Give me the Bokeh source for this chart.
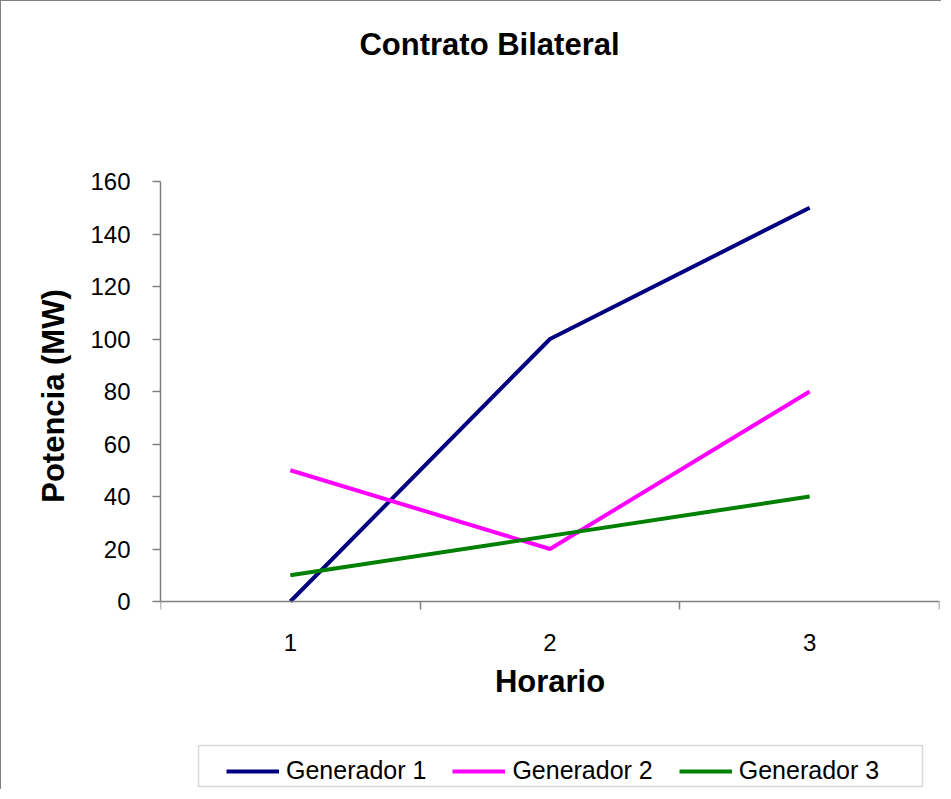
from bokeh.plotting import figure
from bokeh.models import Range1d, FixedTicker, Legend, LegendItem, Label, BoxAnnotation
from bokeh.embed import file_html
from bokeh.resources import INLINE

horario = [1, 2, 3]
gen1 = [0, 100, 150]
gen2 = [50, 20, 80]
gen3 = [10, 25, 40]
y_ticks = [0, 20, 40, 60, 80, 100, 120, 140, 160]
x_minor = [0.5, 1.5, 2.5, 3.5]
series_names = ["Generador 1", "Generador 2", "Generador 3"]
colors = ["#000080", "#FF00FF", "#008000"]
chart_title = "Contrato Bilateral"

W, H = 941, 789
PX_PER_UNIT = 420 / 160.0          # 160 units over 420 px of plot area
TOP_PX, BOTTOM_PX = 180, H - 600    # space above 160 and below 0
p = figure(width=W, height=H, output_backend="svg", toolbar_location=None,
           x_range=Range1d(0.5, 3.5),
           y_range=Range1d(-BOTTOM_PX / PX_PER_UNIT, 160 + TOP_PX / PX_PER_UNIT),
           min_border_left=159, min_border_right=3, min_border_top=0, min_border_bottom=0)
p.title = None

p.outline_line_color = None
p.grid.visible = False
p.background_fill_color = "white"
p.border_fill_color = "white"

# x axis, drawn at y = 0
xa = p.xaxis[0]
xa.fixed_location = 0
xa.ticker = FixedTicker(ticks=horario, minor_ticks=x_minor)
xa.axis_line_color = "#808080"
xa.axis_line_width = 1.5
xa.major_tick_in = 0
xa.major_tick_out = 0
xa.minor_tick_in = 0
xa.minor_tick_out = 8
xa.minor_tick_line_color = "#808080"
xa.minor_tick_line_width = 1.5
xa.major_label_text_font = "Liberation Sans"
xa.major_label_text_font_size = "24px"
xa.major_label_text_color = "black"
xa.major_label_standoff = 24
xa.axis_label = "Horario"
xa.axis_label_text_font = "Liberation Sans"
xa.axis_label_text_font_size = "31px"
xa.axis_label_text_font_style = "bold"
xa.axis_label_text_color = "black"
xa.axis_label_standoff = 10

# y axis
ya = p.yaxis[0]
ya.bounds = (0, 160)
ya.ticker = FixedTicker(ticks=y_ticks, minor_ticks=[])
ya.axis_line_color = "#808080"
ya.axis_line_width = 1.5
ya.major_tick_in = 0
ya.major_tick_out = 8
ya.major_tick_line_color = "#808080"
ya.major_tick_line_width = 1.5
ya.minor_tick_out = 0
ya.major_label_text_font = "Liberation Sans"
ya.major_label_text_font_size = "24px"
ya.major_label_text_color = "black"
ya.major_label_standoff = 22
ya.axis_label = "Potencia (MW)"
ya.axis_label_text_font = "Liberation Sans"
ya.axis_label_text_font_size = "31px"
ya.axis_label_text_font_style = "bold"
ya.axis_label_text_color = "black"
ya.axis_label_standoff = 16

# title
p.add_layout(Label(x=329, y=746, x_units="screen", y_units="screen", text=chart_title,
                   text_align="center", text_baseline="alphabetic",
                   text_font="Liberation Sans", text_font_size="31px",
                   text_font_style="bold", text_color="black"))

items = []
for name, ys, c in zip(series_names, [gen1, gen2, gen3], colors):
    r = p.line(horario, ys, line_color=c, line_width=4)
    items.append(LegendItem(label=name, renderers=[r]))

# legend frame
p.add_layout(BoxAnnotation(left=38, right=762, bottom=4, top=45,
                           left_units="screen", right_units="screen",
                           bottom_units="screen", top_units="screen",
                           fill_color="white", fill_alpha=1,
                           line_color="#808080", line_width=1.5, level="annotation"))

legend = Legend(items=items, orientation="horizontal", location=(66, 5),
                border_line_color=None, background_fill_alpha=0,
                label_text_font="Liberation Sans", label_text_font_size="25px",
                label_text_color="black", glyph_width=53, glyph_height=28,
                label_height=28, label_standoff=7, spacing=26, padding=8, margin=0)
p.add_layout(legend, "center")

p.styles = {"border-left": "1px solid #808080", "border-top": "1px solid #808080"}

open("out.html", "w").write(file_html(p, INLINE))
